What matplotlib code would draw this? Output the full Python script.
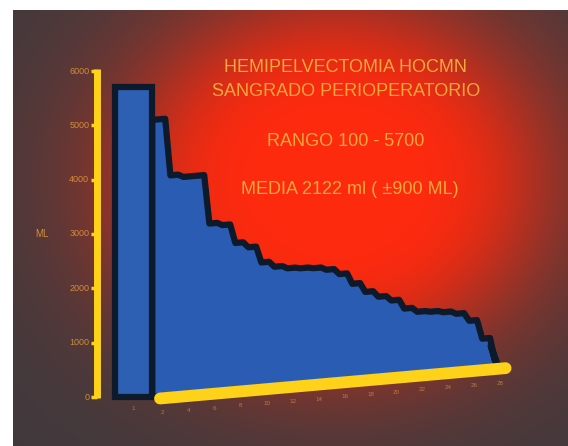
import numpy as np
import matplotlib
matplotlib.use("Agg")
import matplotlib.pyplot as plt

W, H = 568, 446

# sangrado perioperatorio por paciente (ml), ordenado de mayor a menor
first_case = 5700
losses = [5100, 4050, 4000, 4000, 3100, 3050, 2700, 2600, 2300, 2200, 2150, 2130,
          2110, 2060, 1960, 1760, 1590, 1480, 1390, 1220, 1140, 1120, 1090, 1040,
          890, 540, 100]
y_ticks = [0, 1000, 2000, 3000, 4000, 5000, 6000]
y_ticklabels = ["0", "1000", "2000", "3000", "4000", "5000", "6000"]
case_labels = [str(n) for n in range(2, 29, 2)]
title_lines = ["HEMIPELVECTOMIA HOCMN", "SANGRADO PERIOPERATORIO"]
range_text = "RANGO 100 - 5700"
mean_text = "MEDIA 2122 ml ( \u00b1900 ML)"

YELLOW = "#ffd21a"
TEXT = "#f4a83c"
BLUE = "#2a5cb4"
EDGE = "#0c1a2c"

fig = plt.figure(figsize=(W / 100, H / 100), dpi=100)

# slide background: dark frame with a red glow in the middle
yy, xx = np.mgrid[0:H, 0:W]
r = np.sqrt(((xx - 335) / 235.0) ** 2 + ((yy - 180) / 200.0) ** 2)
w = 1.0 / (1.0 + (r / 0.9) ** 5)
red = np.array([255, 42, 14]) / 255.0
dark = np.array([60, 58, 62]) / 255.0
img = dark + (red - dark) * w[..., None]
img[:, :13] = 1.0
img[:10, :] = 1.0
bg = fig.add_axes([0, 0, 1, 1])
bg.imshow(img, extent=(0, W, H, 0), aspect="auto", interpolation="bilinear")
bg.set_xlim(0, W)
bg.set_ylim(H, 0)
bg.axis("off")

# chart axes: y 0..6000 between pixel rows 397 and 71, one case = 13 px
ax = fig.add_axes([97 / W, (H - 397) / H, (503 - 97) / W, (397 - 71) / H])
ax.set_xlim(-4.25, 27.0)
ax.set_ylim(0, 6000)
ax.patch.set_alpha(0)
ax.axis("off")

# the floor of the 3d area rises slightly toward the right
rise = 21.0


def floor(x):
    return rise * x


# stepped area for the remaining cases
xs, ys = [0.0], [floor(0.0)]
for i, v in enumerate(losses):
    s = 0.0 if i == 0 else 0.4
    xs += [i + s, i + 1]
    ys += [floor(i + s) + v, floor(i + 1) + v]
end = len(losses) - 0.35
xs[-1] = end - 0.6
ys[-1] = floor(end - 0.6) + losses[-1] * 4
xs.append(end)
ys.append(floor(end))
ax.fill(xs, ys, facecolor=BLUE, edgecolor=EDGE, lw=4.5, joinstyle="round",
        zorder=2, clip_on=False)

# largest case drawn as its own column
ax.bar(-1.45, first_case, width=2.9, color="#2d5fb2", edgecolor=EDGE, lw=4.5,
       zorder=3, clip_on=False)

# yellow axes
ax.plot([-4.25, -4.25], [-20, 6030], color=YELLOW, lw=5, solid_capstyle="butt",
        zorder=5, clip_on=False)
ax.hlines(y_ticks, -4.75, -4.25, color=YELLOW, lw=2.5, zorder=5, clip_on=False)
ax.plot([0.6, 27.2], [floor(0.6) - 40, floor(27.2) - 40], color=YELLOW, lw=8.5,
        solid_capstyle="round", zorder=6, clip_on=False)

for t, lab in zip(y_ticks, y_ticklabels):
    ax.text(-4.85, t, lab, ha="right", va="center", fontsize=6.5, color=TEXT,
            alpha=0.75, family="Liberation Sans", clip_on=False)
ax.text(-8.45, 3000, "ML", ha="center", va="center", fontsize=7, color=TEXT,
        alpha=0.8, family="Liberation Sans", clip_on=False)

# case labels under the floor bar
ax.text(-1.45, -160, "1", ha="center", va="top", fontsize=4.5, color=TEXT,
        alpha=0.6, family="Liberation Sans", clip_on=False)
for k, lab in enumerate(case_labels):
    x = 0.8 + 2 * k
    ax.text(x, floor(x) - 260, lab, ha="center", va="top", fontsize=4.5,
            color=TEXT, alpha=0.6, family="Liberation Sans", clip_on=False)

# slide text
fig.text(345 / W, 1 - 68 / H, title_lines[0], ha="center", va="center",
         fontsize=13, color=TEXT, family="Liberation Sans")
fig.text(346 / W, 1 - 92 / H, title_lines[1], ha="center", va="center",
         fontsize=13, color=TEXT, family="Liberation Sans")
fig.text(346 / W, 1 - 141 / H, range_text, ha="center", va="center",
         fontsize=13, color=TEXT, family="Liberation Sans")
fig.text(350 / W, 1 - 190 / H, mean_text, ha="center", va="center",
         fontsize=13, color=TEXT, family="Liberation Sans")

fig.savefig("out.png", dpi=100)
